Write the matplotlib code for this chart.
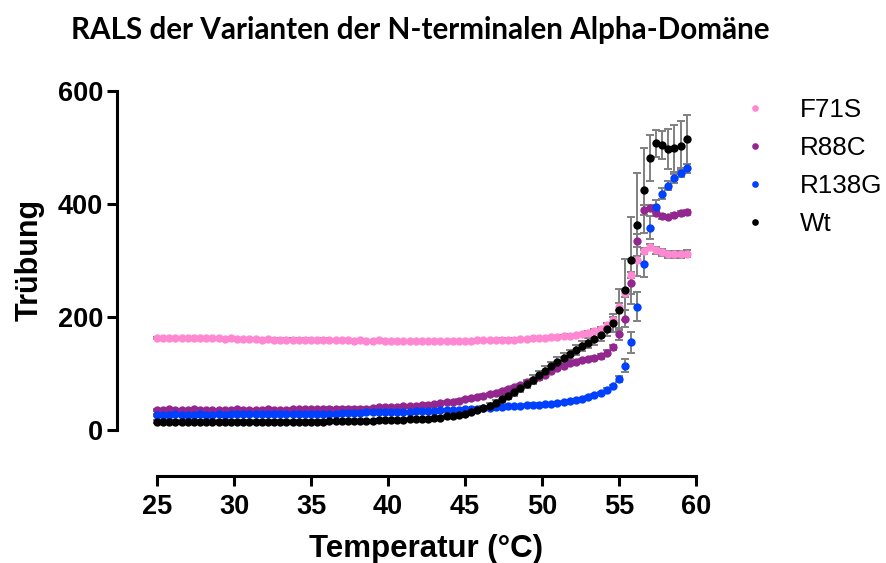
import numpy as np
import matplotlib
matplotlib.use('Agg')
import matplotlib.pyplot as plt
from matplotlib.lines import Line2D

# Temperaturraster der Messung (°C)
temp = np.round(25 + 0.4 * np.arange(87), 1)

labels = ['F71S', 'R88C', 'R138G', 'Wt']
colors = ['#FF88D2', '#93278F', '#0040FF', '#000000']

f71s = [163, 163, 162, 163, 162, 163, 162, 163, 162, 162,
        162, 161, 162, 161, 161, 161, 161, 160, 161, 160,
        160, 160, 160, 159, 160, 159, 159, 160, 159, 159,
        159, 159, 158, 159, 158, 158, 159, 158, 158, 158,
        158, 158, 157, 158, 157, 157, 157, 157, 158, 158,
        158, 158, 159, 159, 159, 159, 160, 160, 160, 161,
        161, 162, 162, 163, 164, 165, 166, 167, 168, 170,
        172, 175, 179, 185, 195, 218, 242, 274, 301, 316,
        324, 318, 314, 311, 311, 311, 312]
f71s_sd = [2, 2, 2, 2, 2, 2, 2, 2, 2, 2,
           2, 2, 2, 2, 2, 2, 2, 2, 2, 2,
           2, 2, 2, 2, 2, 2, 2, 2, 2, 2,
           2, 2, 2, 2, 2, 2, 2, 2, 2, 2,
           2, 2, 2, 2, 2, 2, 2, 2, 2, 2,
           2, 2, 2, 2, 2, 2, 2, 2, 2, 2,
           2, 2, 2, 2, 2, 2, 2, 2, 2, 2,
           3, 3, 3, 4, 5, 6, 6, 6, 6, 5,
           5, 6, 6, 6, 6, 6, 6]

r88c = [36, 36, 37, 36, 36, 36, 37, 36, 36, 36,
        36, 36, 36, 37, 36, 36, 36, 36, 37, 36,
        36, 36, 37, 37, 37, 37, 37, 37, 38, 37,
        38, 38, 38, 38, 38, 39, 40, 40, 41, 41,
        42, 43, 43, 44, 45, 46, 47, 49, 50, 52,
        55, 57, 59, 61, 63, 66, 69, 72, 76, 80,
        84, 88, 93, 98, 104, 109, 114, 118, 121, 123,
        125, 127, 130, 137, 146, 170, 197, 260, 335, 389,
        392, 383, 378, 377, 380, 383, 385]
r88c_sd = [2, 2, 2, 2, 2, 2, 2, 2, 2, 2,
           2, 2, 2, 2, 2, 2, 2, 2, 2, 2,
           2, 2, 2, 2, 2, 2, 2, 2, 2, 2,
           2, 2, 2, 2, 2, 2, 2, 2, 2, 2,
           2, 2, 2, 2, 2, 2, 2, 2, 2, 2,
           2, 2, 2, 2, 2, 2, 2, 2, 2, 2,
           2, 2, 2, 2, 3, 3, 3, 3, 3, 3,
           3, 3, 4, 4, 5, 10, 15, 20, 12, 8,
           5, 4, 4, 4, 4, 4, 4]

r138g = [27, 27, 27, 28, 27, 27, 27, 28, 27, 27,
         28, 27, 28, 28, 28, 28, 28, 28, 28, 28,
         28, 28, 29, 29, 29, 29, 29, 29, 29, 29,
         30, 30, 30, 30, 31, 31, 31, 31, 31, 32,
         32, 32, 33, 33, 34, 34, 35, 35, 36, 36,
         37, 37, 38, 39, 39, 40, 41, 42, 42, 43,
         44, 45, 45, 46, 46, 47, 49, 51, 53, 55,
         58, 62, 66, 71, 77, 90, 114, 155, 218, 294,
         358, 395, 418, 432, 445, 455, 463]
r138g_sd = [2, 2, 2, 2, 2, 2, 2, 2, 2, 2,
            2, 2, 2, 2, 2, 2, 2, 2, 2, 2,
            2, 2, 2, 2, 2, 2, 2, 2, 2, 2,
            2, 2, 2, 2, 2, 2, 2, 2, 2, 2,
            2, 2, 2, 2, 2, 2, 2, 2, 2, 2,
            2, 2, 2, 2, 2, 2, 2, 2, 2, 2,
            2, 2, 2, 2, 2, 2, 2, 2, 2, 2,
            2, 2, 2, 3, 3, 5, 11, 18, 26, 24,
            20, 12, 10, 8, 8, 8, 8]

wt = [15, 15, 15, 15, 15, 15, 15, 15, 15, 15,
      15, 15, 15, 15, 15, 15, 15, 15, 15, 15,
      15, 15, 15, 15, 15, 15, 15, 15, 16, 16,
      16, 16, 16, 16, 16, 16, 17, 17, 17, 18,
      18, 19, 19, 20, 20, 21, 22, 24, 25, 27,
      29, 32, 35, 39, 43, 48, 54, 60, 67, 74,
      82, 89, 97, 105, 113, 121, 128, 134, 141, 148,
      154, 161, 168, 178, 190, 213, 248, 300, 363, 424,
      481, 507, 504, 497, 498, 503, 514]
wt_sd = [2, 2, 2, 2, 2, 2, 2, 2, 2, 2,
         2, 2, 2, 2, 2, 2, 2, 2, 2, 2,
         2, 2, 2, 2, 2, 2, 2, 2, 2, 2,
         2, 2, 2, 2, 2, 2, 2, 2, 2, 2,
         2, 2, 2, 2, 2, 2, 2, 2, 2, 2,
         3, 3, 3, 4, 4, 5, 6, 6, 7, 7,
         7, 8, 8, 8, 8, 8, 8, 8, 9, 9,
         9, 10, 10, 12, 16, 36, 54, 77, 91, 75,
         40, 24, 25, 36, 41, 44, 43]

series = [f71s, r88c, r138g, wt]
errors = [f71s_sd, r88c_sd, r138g_sd, wt_sd]

plt.rcParams['font.family'] = ['Liberation Sans', 'DejaVu Sans']

W, H = 887, 563
fig = plt.figure(figsize=(W / 100, H / 100), dpi=100)
ax = fig.add_axes([157 / W, 133 / H, 539 / W, 339.3 / H])

# Fehlerbalken zuerst, Punkte darueber
for y, e in zip(series, errors):
    ax.errorbar(temp, y, yerr=e, fmt='none', ecolor='#808080',
                elinewidth=1.4, capsize=2.8, capthick=1.4, zorder=2, clip_on=False)
for y, c in zip(series, colors):
    ax.plot(temp, y, 'o', color=c, markersize=6.0, markeredgewidth=0,
            zorder=3, clip_on=False)

ax.set_xlim(25, 60)
ax.set_ylim(0, 600)
ax.set_xticks(range(25, 61, 5))
ax.set_yticks([0, 200, 400, 600])

for s in ['top', 'right']:
    ax.spines[s].set_visible(False)
ax.spines['left'].set_position(('outward', 40 * 0.72))
ax.spines['bottom'].set_position(('outward', 46 * 0.72))
for s in ['left', 'bottom']:
    ax.spines[s].set_linewidth(2.2)
ax.tick_params(direction='out', length=7, width=2.2, labelsize=19.5)
ax.tick_params(axis='x', pad=6)
ax.tick_params(axis='y', pad=3)
for t in ax.get_xticklabels() + ax.get_yticklabels():
    t.set_fontweight('bold')

ax.set_xlabel('Temperatur (°C)', fontsize=22.5, fontweight='bold', va='center')
ax.xaxis.set_label_coords(0.5, -0.35)
ax.set_ylabel('Trübung', fontsize=22, fontweight='bold', va='center')
ax.yaxis.set_label_coords(-0.2356, 0.5)

handles = [Line2D([], [], marker='o', linestyle='none', color=c,
                  markersize=4.8, markeredgewidth=0) for c in colors]
fig.legend(handles, labels, loc='upper left', frameon=False,
           bbox_to_anchor=(742 / W, 1 - 97.7 / H), bbox_transform=fig.transFigure,
           fontsize=18.7, handlelength=1.0, handletextpad=1.23,
           labelspacing=0.54, borderpad=0, borderaxespad=0)

title = fig.text(420 / W, 1 - 30 / H, 'RALS der Varianten der N-terminalen Alpha-Domäne',
                 ha='center', va='center', fontsize=18, fontweight='bold',
                 family=['Lato', 'DejaVu Sans'])
# Titelbreite an die Vorlage (ca. 700 px) anpassen
fig.canvas.draw()
wpx = title.get_window_extent().width
title.set_fontsize(18 * 700 / wpx)

fig.savefig('out.png', dpi=100)
